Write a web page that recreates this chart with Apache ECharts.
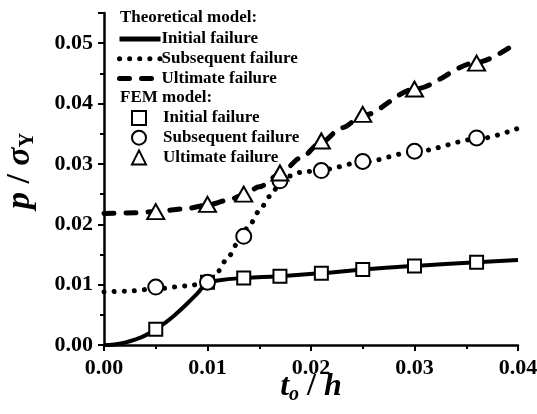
<!DOCTYPE html>
<html>
<head>
<meta charset="utf-8">
<script src="https://cdn.jsdelivr.net/npm/echarts@6/dist/echarts.min.js"></script>
<style>html,body{margin:0;padding:0;background:#fff}#c{width:537px;height:414px}</style>
</head>
<body>
<div id="c"></div>
<script>
// Theoretical curves
const initialTheoryX = [0, 0.001, 0.002, 0.003, 0.004, 0.005, 0.006, 0.007, 0.008, 0.009, 0.01, 0.011, 0.0135, 0.017, 0.021, 0.025, 0.03, 0.036, 0.04];
const initialTheoryY = [0, 0.0001, 0.0004, 0.0009, 0.0016, 0.0026, 0.0038, 0.0052, 0.0068, 0.0085, 0.0103, 0.0107, 0.0111, 0.0114, 0.0119, 0.0125, 0.0131, 0.0137, 0.0141];
const subsequentTheoryX = [0, 0.002, 0.005, 0.008, 0.01, 0.011, 0.012, 0.013, 0.014, 0.015, 0.016, 0.017, 0.018, 0.019, 0.021, 0.025, 0.03, 0.036, 0.04];
const subsequentTheoryY = [0.0088, 0.0089, 0.0093, 0.0098, 0.0103, 0.0122, 0.0146, 0.0171, 0.0197, 0.0222, 0.0246, 0.0267, 0.0280, 0.0286, 0.0290, 0.0303, 0.0320, 0.0341, 0.0359];
const ultimateTheoryX = [0, 0.003, 0.005, 0.008, 0.01, 0.012, 0.0135, 0.015, 0.017, 0.019, 0.021, 0.023, 0.025, 0.03, 0.036, 0.04];
const ultimateTheoryY = [0.0218, 0.0219, 0.0221, 0.0226, 0.0232, 0.0240, 0.0249, 0.0262, 0.0283, 0.0310, 0.0336, 0.0360, 0.0380, 0.0424, 0.0468, 0.0502];
// FEM points
const femX = [0.005, 0.01, 0.0135, 0.017, 0.021, 0.025, 0.03, 0.036];
const initialFem = [0.0026, 0.0104, 0.0111, 0.0114, 0.0119, 0.0125, 0.0131, 0.0137];
const subsequentFem = [0.0096, 0.0104, 0.0180, 0.0272, 0.0289, 0.0304, 0.0321, 0.0343];
const ultimateFem = [0.0221, 0.0233, 0.0250, 0.0285, 0.0338, 0.0382, 0.0424, 0.0467];
const theoryNames = ['Initial failure', 'Subsequent failure', 'Ultimate failure'];
const femNames = ['Initial failure ', 'Subsequent failure ', 'Ultimate failure '];

const zip = (xs, ys) => xs.map((x, i) => [x, ys[i]]);
const FONT = 'Liberation Serif';
const chart = echarts.init(document.getElementById('c'), null, {renderer: 'canvas'});
const lineBase = {type: 'line', symbol: 'none', smooth: 0.3, smoothMonotone: 'x', z: 2, silent: true,
  itemStyle: {color: 'rgba(0,0,0,0)', borderWidth: 0}};
const scatterBase = {type: 'scatter', z: 5, itemStyle: {color: '#fff', borderColor: '#000', borderWidth: 2, opacity: 1}};
const legendText = {fontFamily: FONT, fontWeight: 'bold', fontSize: 17, color: '#000', lineHeight: 18};
chart.setOption({
  animation: false,
  backgroundColor: '#fff',
  grid: {left: 104, right: 19, top: 13, bottom: 69, containLabel: false, outerBoundsMode: 'none'},
  xAxis: {
    type: 'value', min: 0, max: 0.04, interval: 0.01,
    axisLine: {lineStyle: {color: '#000', width: 2.5}},
    axisTick: {show: true, length: 6, lineStyle: {color: '#000', width: 2}},
    minorTick: {show: true, splitNumber: 2, length: 4, lineStyle: {color: '#000', width: 2}},
    splitLine: {show: false},
    axisLabel: {color: '#000', fontFamily: FONT, fontWeight: 'bold', fontSize: 22, margin: 12,
      formatter: v => v.toFixed(2)},
    name: '{i|t}{s|o}{b| / }{i|h}',
    nameLocation: 'middle', nameGap: 24, nameMoveOverlap: false,
    nameTextStyle: {fontFamily: FONT, color: '#000',
      rich: {
        i: {fontFamily: FONT, fontStyle: 'italic', fontWeight: 'bold', fontSize: 32, color: '#000'},
        b: {fontFamily: FONT, fontWeight: 'bold', fontSize: 32, color: '#000'},
        s: {fontFamily: FONT, fontStyle: 'italic', fontWeight: 'bold', fontSize: 20, color: '#000', padding: [16, 0, 0, 0]}
      }}
  },
  yAxis: {
    type: 'value', min: 0, max: 0.055, interval: 0.01,
    axisLine: {lineStyle: {color: '#000', width: 2.5}},
    axisTick: {show: true, length: 6, lineStyle: {color: '#000', width: 2}},
    minorTick: {show: true, splitNumber: 2, length: 4, lineStyle: {color: '#000', width: 2}},
    splitLine: {show: false},
    axisLabel: {color: '#000', fontFamily: FONT, fontWeight: 'bold', fontSize: 22, margin: 11, showMaxLabel: false,
      formatter: v => v.toFixed(2)},
    name: '{i|p}{b| / }{i|σ}{s|Y}',
    nameLocation: 'middle', nameGap: 66, nameRotate: 90, nameMoveOverlap: false,
    nameTextStyle: {fontFamily: FONT, color: '#000', padding: [0, 0, 0, 16],
      rich: {
        i: {fontFamily: FONT, fontStyle: 'italic', fontWeight: 'bold', fontSize: 34, color: '#000'},
        b: {fontFamily: FONT, fontWeight: 'bold', fontSize: 34, color: '#000'},
        s: {fontFamily: FONT, fontWeight: 'bold', fontSize: 20, color: '#000', padding: [16, 0, 0, 0]}
      }}
  },
  legend: [
    {
      orient: 'vertical', left: 117, top: 30, padding: 0, itemWidth: 41, itemHeight: 14, itemGap: 1.7,
      itemStyle: {opacity: 0},
      lineStyle: {width: 5},
      textStyle: Object.assign({padding: [0, 0, 0, -4]}, legendText),
      data: theoryNames.map(n => ({name: n}))
    },
    {
      orient: 'vertical', left: 131, top: 109, padding: 0, itemWidth: 14, itemHeight: 14, itemGap: 1.7,
      textStyle: Object.assign({padding: [0, 0, 0, 12]}, legendText),
      data: femNames.map(n => ({name: n}))
    }
  ],
  graphic: [
    {type: 'text', left: 120, top: 9, style: {text: 'Theoretical model:', font: 'bold 17px "Liberation Serif"', fill: '#000'}},
    {type: 'text', left: 120, top: 89, style: {text: 'FEM model:', font: 'bold 17px "Liberation Serif"', fill: '#000'}}
  ],
  series: [
    Object.assign({}, lineBase, {name: theoryNames[0], data: zip(initialTheoryX, initialTheoryY),
      smooth: 0.5, smoothMonotone: null, lineStyle: {color: '#000', width: 4}}),
    Object.assign({}, lineBase, {name: theoryNames[1], data: zip(subsequentTheoryX, subsequentTheoryY),
      lineStyle: {color: '#000', width: 5, type: [0.1, 10], cap: 'round'}}),
    Object.assign({}, lineBase, {name: theoryNames[2], data: zip(ultimateTheoryX, ultimateTheoryY),
      lineStyle: {color: '#000', width: 5, type: [10, 12], cap: 'round'}}),
    Object.assign({}, scatterBase, {name: femNames[0], symbol: 'rect', symbolSize: 13, data: zip(femX, initialFem)}),
    Object.assign({}, scatterBase, {name: femNames[1], symbol: 'circle', symbolSize: 15, data: zip(femX, subsequentFem)}),
    Object.assign({}, scatterBase, {name: femNames[2], symbol: 'triangle', symbolSize: [17, 15], data: zip(femX, ultimateFem)})
  ]
});
</script>
</body>
</html>
